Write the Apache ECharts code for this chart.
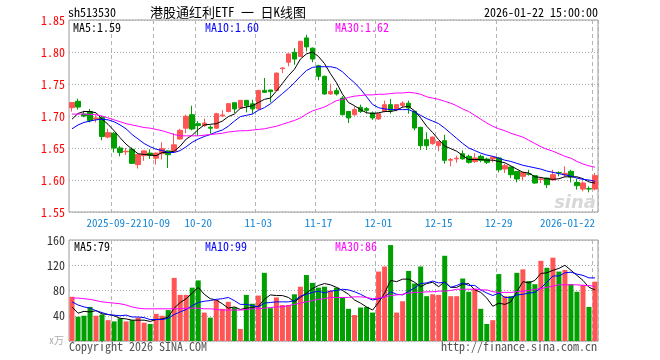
<!DOCTYPE html>
<html><head><meta charset="utf-8">
<script src="https://cdn.jsdelivr.net/npm/echarts@6/dist/echarts.min.js"></script>
<style>html,body{margin:0;padding:0;background:#fff}#c{width:660px;height:360px}</style>
</head><body><div id="c"></div>
<script>
const dates = [
'2025-09-11','2025-09-12','2025-09-15','2025-09-16','2025-09-17','2025-09-18','2025-09-19','2025-09-22','2025-09-23','2025-09-24',
'2025-09-25','2025-09-26','2025-09-29','2025-09-30','2025-10-09','2025-10-10','2025-10-13','2025-10-14','2025-10-15','2025-10-16',
'2025-10-17','2025-10-20','2025-10-21','2025-10-22','2025-10-23','2025-10-24','2025-10-27','2025-10-28','2025-10-29','2025-10-30',
'2025-10-31','2025-11-03','2025-11-04','2025-11-05','2025-11-06','2025-11-07','2025-11-10','2025-11-11','2025-11-12','2025-11-13',
'2025-11-14','2025-11-17','2025-11-18','2025-11-19','2025-11-20','2025-11-21','2025-11-24','2025-11-25','2025-11-26','2025-11-27',
'2025-11-28','2025-12-01','2025-12-02','2025-12-03','2025-12-04','2025-12-05','2025-12-08','2025-12-09','2025-12-10','2025-12-11',
'2025-12-12','2025-12-15','2025-12-16','2025-12-17','2025-12-18','2025-12-19','2025-12-22','2025-12-23','2025-12-24','2025-12-25',
'2025-12-26','2025-12-29','2025-12-30','2025-12-31','2026-01-05','2026-01-06','2026-01-07','2026-01-08','2026-01-09','2026-01-12',
'2026-01-13','2026-01-14','2026-01-15','2026-01-16','2026-01-19','2026-01-20','2026-01-21','2026-01-22'];
const tickDates = ['2025-09-22','2025-10-09','2025-10-20','2025-11-03','2025-11-17','2025-12-01','2025-12-15','2025-12-29','2026-01-22'];
const tickText  = ['2025-09-22','10-09','10-20','11-03','11-17','12-01','12-15','12-29','2026-01-22'];

const open = [1.713,1.723,1.703,1.707,1.695,1.698,1.667,1.673,1.650,1.644,
1.648,1.624,1.638,1.642,1.634,1.641,1.6455,1.645,1.664,1.681,
1.702,1.688,1.685,1.6825,1.681,1.700,1.707,1.7208,1.7125,1.7245,
1.719,1.711,1.740,1.7406,1.740,1.774,1.784,1.7995,1.793,1.822,
1.806,1.7786,1.762,1.7344,1.7396,1.728,1.707,1.702,1.7135,1.7115,
1.7047,1.6953,1.7073,1.7177,1.710,1.7167,1.720,1.7073,1.6823,1.663,
1.6568,1.6536,1.6615,1.631,1.633,1.641,1.637,1.629,1.637,1.6328,
1.633,1.6344,1.6172,1.6203,1.6135,1.6057,1.6095,1.6068,1.601,1.603,
1.600,1.6115,1.608,1.6135,1.5963,1.5859,1.5865,1.5859];
const close = [1.721,1.714,1.700,1.693,1.697,1.668,1.674,1.650,1.643,1.645,
1.626,1.640,1.6455,1.6385,1.642,1.649,1.6395,1.655,1.6776,1.6995,
1.6797,1.685,1.689,1.681,1.7036,1.7015,1.7193,1.711,1.7245,1.716,
1.711,1.740,1.737,1.738,1.767,1.775,1.797,1.789,1.8167,1.808,
1.789,1.762,1.7344,1.7385,1.7344,1.702,1.697,1.710,1.707,1.709,
1.697,1.7036,1.7177,1.7089,1.7177,1.720,1.7125,1.6812,1.6536,1.6536,
1.667,1.660,1.6307,1.632,1.634,1.633,1.6276,1.6344,1.6307,1.6276,
1.636,1.616,1.6224,1.6083,1.6016,1.612,1.609,1.5953,1.6016,1.5927,
1.6083,1.611,1.6104,1.6047,1.5911,1.5953,1.5859,1.6068];
const low = [1.707,1.710,1.698,1.690,1.690,1.662,1.665,1.643,1.637,1.639,
1.625,1.618,1.630,1.633,1.624,1.632,1.6187,1.643,1.663,1.673,
1.6776,1.669,1.683,1.6724,1.680,1.698,1.7057,1.7047,1.711,1.7057,
1.7036,1.710,1.736,1.7213,1.739,1.767,1.7776,1.780,1.792,1.801,
1.784,1.7557,1.7333,1.733,1.732,1.701,1.689,1.7005,1.7047,1.704,
1.694,1.694,1.7057,1.7036,1.7073,1.7125,1.7036,1.6776,1.647,1.647,
1.655,1.6448,1.6255,1.6214,1.627,1.6318,1.6255,1.6266,1.6276,1.625,
1.6276,1.612,1.611,1.603,1.5963,1.5995,1.6068,1.594,1.5953,1.5875,
1.599,1.6057,1.6047,1.5963,1.585,1.5823,1.5807,1.5838];
const high = [1.722,1.727,1.708,1.711,1.701,1.700,1.680,1.675,1.653,1.650,
1.651,1.641,1.646,1.648,1.643,1.659,1.646,1.673,1.680,1.702,
1.716,1.692,1.696,1.6854,1.705,1.709,1.720,1.721,1.725,1.725,
1.7255,1.741,1.7594,1.741,1.768,1.776,1.7975,1.806,1.817,1.827,
1.807,1.780,1.763,1.7505,1.744,1.731,1.708,1.715,1.7177,1.714,
1.707,1.704,1.724,1.7266,1.718,1.723,1.724,1.708,1.683,1.6745,
1.668,1.661,1.6708,1.6344,1.638,1.6463,1.6396,1.642,1.6396,1.635,
1.637,1.636,1.6255,1.621,1.614,1.6125,1.616,1.608,1.6047,1.604,
1.616,1.6135,1.6214,1.616,1.6016,1.598,1.590,1.611];

const ma5 = [1.695,1.704,1.707,1.707,1.705,1.695,1.687,1.677,1.666,1.656,
1.648,1.641,1.640,1.639,1.638,1.643,1.643,1.645,1.653,1.664,
1.670,1.679,1.686,1.687,1.688,1.692,1.699,1.703,1.712,1.714,
1.716,1.721,1.726,1.728,1.739,1.751,1.763,1.773,1.789,1.797,
1.800,1.793,1.782,1.766,1.752,1.734,1.721,1.716,1.710,1.705,
1.704,1.705,1.707,1.707,1.709,1.714,1.715,1.708,1.697,1.684,
1.674,1.663,1.653,1.649,1.645,1.638,1.632,1.632,1.632,1.631,
1.631,1.629,1.627,1.622,1.617,1.612,1.611,1.605,1.604,1.602,
1.601,1.602,1.605,1.605,1.605,1.602,1.597,1.595];
const ma10 = [1.680,1.686,1.690,1.692,1.694,1.695,1.694,1.691,1.686,1.680,
1.671,1.664,1.657,1.652,1.648,1.646,1.643,1.643,1.646,1.652,
1.659,1.664,1.668,1.671,1.675,1.678,1.684,1.692,1.699,1.701,
1.703,1.709,1.713,1.719,1.727,1.735,1.743,1.752,1.762,1.771,
1.776,1.777,1.777,1.777,1.775,1.769,1.760,1.752,1.742,1.730,
1.718,1.713,1.711,1.710,1.710,1.710,1.710,1.706,1.701,1.696,
1.692,1.688,1.681,1.673,1.665,1.657,1.650,1.646,1.642,1.639,
1.637,1.634,1.631,1.629,1.626,1.623,1.621,1.619,1.617,1.614,
1.612,1.610,1.608,1.606,1.603,1.601,1.600,1.598];
const ma30 = [1.703,1.703,1.703,1.7025,1.702,1.700,1.697,1.694,1.691,1.688,
1.686,1.684,1.682,1.681,1.679,1.677,1.674,1.671,1.669,1.669,
1.669,1.669,1.670,1.671,1.672,1.673,1.675,1.676,1.677,1.677,
1.678,1.679,1.680,1.682,1.684,1.687,1.690,1.693,1.697,1.703,
1.708,1.711,1.714,1.719,1.724,1.726,1.729,1.731,1.732,1.733,
1.733,1.734,1.734,1.735,1.736,1.736,1.737,1.736,1.734,1.730,
1.728,1.726,1.723,1.720,1.716,1.711,1.707,1.701,1.695,1.689,
1.684,1.680,1.677,1.673,1.670,1.667,1.662,1.657,1.652,1.648,
1.645,1.641,1.637,1.634,1.629,1.625,1.622,1.620];

const volume = [70,38.5,40,54,40,42,33,31,36,31,
33,37,29,27,43,40,49,100,73,73,
84.5,96,45,37,65,51,62,53,19,73,
59,72,108,52,69,57,57,74,86,104.5,
92,84.5,86,80,84.5,69,51,41,53,54,
45,110,118,152,45,63,111,91,118,71,
74,73,135,71,71,99,78,83,51,27,
33,106,71,71,108,113.5,95,90,127,116,
132,110,112.5,90,78,89,54,94];
const volMa5 = [54,44,47,46,48,43,42,40,36,35,
33,33,33,31,34,35,38,52,61,67,
76,85,74,67,65,59,52,54,50,52,
53,55,66,73,72,72,69,62,69,76,
83,88,91,89,85,80,74,65,60,54,
49,61,76,96,94,98,98,93,86,91,
93,86,94,85,85,90,91,81,77,68,
55,60,58,62,78,94,92,96,107,108,
112,115,120,112,104,96,85,81];
const volMa10 = [62,57,54,52,48,45,42,41,40,41,
38,38,37,34,34,34,36,42,46,50,
56,61,63,64,66,67,69,64,58,58,
56,54,60,61,62,62,62,64,71,74,
77,79,76,79,80,82,81,78,74,69,
65,67,70,78,74,73,79,84,91,92,
95,92,93,85,88,92,88,88,81,76,
72,76,69,69,73,74,76,77,84,93,
103,103,108,109,106,104,100,100];
const volMa30 = [68,68,67,66,64,62,61,60,59,57,
54,52,51,51,51,51,51,51,51,52,
52,52,51,51,50,49,49,49,49,50,
51,51,52,53,54,54,56,58,60,62,
64,66,67,69,69,69,69,70,70,69,
67,68,70,72,73,74,76,77,77,78,
78,79,79,80,82,82,82,82,81,81,
78,77,77,77,78,79,80,82,83,85,
87,89,89,89,89,88,88,86];

const priceTicks = [1.55,1.60,1.65,1.70,1.75,1.80,1.85];
const volTicks = [40,80,120,160];

const FONT = '"Noto Sans Mono CJK SC","DejaVu Sans Mono",monospace';
const UP = '#ff5555', DOWN = '#00a000';
const tickIdx = tickDates.map(d => dates.indexOf(d));
const isTick = i => tickIdx.indexOf(i) >= 0;

const kData = dates.map((d, i) => [open[i], close[i], low[i], high[i]]);
const volData = volume.map((v, i) => ({
  value: v, itemStyle: { color: close[i] >= open[i] ? UP : DOWN }
}));

function lineSeries(data, color, xi, yi) {
  return { type: 'line', data: data, xAxisIndex: xi, yAxisIndex: yi, symbol: 'none', showSymbol: false,
    lineStyle: { color: color, width: 1 }, silent: true, z: 5 };
}
function xAx(gi, showLabel) {
  return {
    type: 'category', gridIndex: gi, data: dates, boundaryGap: true,
    axisLine: { show: false }, axisTick: { show: false },
    axisLabel: showLabel ? {
      interval: (i) => isTick(i),
      hideOverlap: false,
      formatter: (v) => tickText[tickDates.indexOf(v)],
      color: '#1385d6', fontFamily: FONT, fontSize: 11, margin: 5, alignMaxLabel: 'right'
    } : { show: false },
    splitLine: { show: true, interval: (i) => isTick(i), lineStyle: { color: '#b4b4b4', width: 1, type: [4, 3] } }
  };
}
function txt(text, x, y, color, align, size) {
  return { type: 'text', x: x, y: y, silent: true, z: 10,
    style: { text: text, fill: color, font: (size || 12) + 'px ' + FONT,
      align: align || 'left', verticalAlign: 'middle', textAlign: align || 'left', textVerticalAlign: 'middle' } };
}

const chart = echarts.init(document.getElementById('c'));
chart.setOption({
  animation: false,
  backgroundColor: '#fff',
  grid: [
    { left: 69, top: 20, width: 529, height: 192, show: true, borderColor: '#9a9a9a', borderWidth: 1 },
    { left: 69, top: 240, width: 529, height: 101, show: true, borderColor: '#9a9a9a', borderWidth: 1 }
  ],
  xAxis: [xAx(0, true), xAx(1, false)],
  yAxis: [
    { type: 'value', gridIndex: 0, min: priceTicks[0], max: priceTicks[priceTicks.length - 1], interval: 0.05,
      axisLine: { show: false }, axisTick: { show: false },
      axisLabel: { formatter: (v) => v.toFixed(2), color: '#ff0000', fontFamily: FONT, fontSize: 12, margin: 4 },
      splitLine: { show: true, lineStyle: { color: '#a8a8a8', type: [1, 2] } } },
    { type: 'value', gridIndex: 1, min: 0, max: volTicks[volTicks.length - 1], interval: 40,
      axisLine: { show: false }, axisTick: { show: false },
      axisLabel: { formatter: (v) => (v === 0 ? '' : String(v)), color: '#333', fontFamily: FONT, fontSize: 12, margin: 4 },
      splitLine: { show: true, lineStyle: { color: '#a8a8a8', type: [1, 2] } } }
  ],
  series: [
    { type: 'candlestick', data: kData, xAxisIndex: 0, yAxisIndex: 0, barWidth: 5, silent: true,
      itemStyle: { color: UP, color0: DOWN, borderColor: UP, borderColor0: DOWN, borderWidth: 1 } },
    lineSeries(ma5, '#000000', 0, 0),
    lineSeries(ma10, '#0000ff', 0, 0),
    lineSeries(ma30, '#ff00ff', 0, 0),
    { type: 'bar', data: volData, xAxisIndex: 1, yAxisIndex: 1, barWidth: 5, silent: true },
    lineSeries(volMa5, '#000000', 1, 1),
    lineSeries(volMa10, '#0000ff', 1, 1),
    lineSeries(volMa30, '#ff00ff', 1, 1)
  ],
  graphic: [
    txt('sh513530', 68, 12, '#000', 'left', 12),
    txt('港股通红利ETF 一 日K线图', 150, 12, '#000', 'left', 13),
    txt('2026-01-22 15:00:00', 598, 12, '#000', 'right', 12),
    txt('MA5:1.59', 73, 27, '#000', 'left', 12),
    txt('MA10:1.60', 205, 27, '#0000ff', 'left', 12),
    txt('MA30:1.62', 335, 27, '#ff00ff', 'left', 12),
    txt('MA5:79', 74, 246, '#000', 'left', 12),
    txt('MA10:99', 205, 246, '#0000ff', 'left', 12),
    txt('MA30:86', 335, 246, '#ff00ff', 'left', 12),
    txt('Copyright 2026 SINA.COM', 69, 346, '#555', 'left', 12),
    txt('http://finance.sina.com.cn', 597, 346, '#555', 'right', 12),
    txt('x万', 64, 340, '#aaa', 'right', 10),
    { type: 'text', x: 596, y: 203, silent: true, z: 1,
      style: { text: 'sina', fill: '#d8d8d8', font: 'italic bold 18px "DejaVu Sans", sans-serif',
        align: 'right', verticalAlign: 'middle', textAlign: 'right', textVerticalAlign: 'middle' } }
  ]
});
</script></body></html>
